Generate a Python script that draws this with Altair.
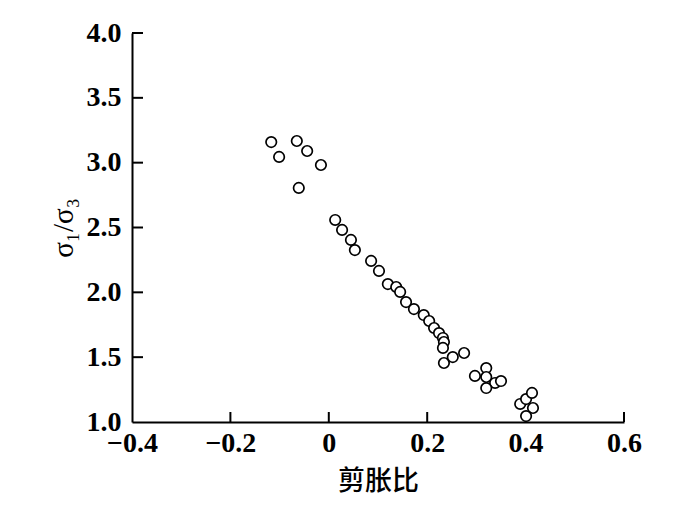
import altair as alt
import pandas as pd

# 剪胀比 (dilatancy ratio) and principal stress ratio σ1/σ3
dilatancy = [-0.117, -0.101, -0.065, -0.044, -0.016, -0.061,
             0.013, 0.027, 0.045, 0.053, 0.086, 0.102, 0.120, 0.137, 0.145,
             0.157, 0.173, 0.193, 0.204, 0.214, 0.224, 0.232, 0.234, 0.232,
             0.234, 0.252, 0.275, 0.297, 0.320, 0.320, 0.338, 0.350, 0.320,
             0.389, 0.401, 0.413, 0.415, 0.401]
stress_ratio = [3.159, 3.044, 3.167, 3.090, 2.982, 2.805,
                2.558, 2.481, 2.404, 2.326, 2.242, 2.165, 2.064, 2.041, 2.003,
                1.925, 1.871, 1.825, 1.779, 1.725, 1.686, 1.648, 1.617, 1.571,
                1.455, 1.501, 1.532, 1.355, 1.416, 1.347, 1.301, 1.316, 1.262,
                1.139, 1.177, 1.224, 1.108, 1.046]

x_label_values = [-0.4, -0.2, 0.0, 0.2, 0.4, 0.6]
y_label_values = [1.0, 1.5, 2.0, 2.5, 3.0, 3.5, 4.0]
x_tick_marks = [-0.2, 0.0, 0.2, 0.4, 0.6]
y_tick_marks = [1.5, 2.0, 2.5, 3.0, 3.5, 4.0]

df = pd.DataFrame({"x": dilatancy, "y": stress_ratio})
xt = pd.DataFrame({"x": x_tick_marks})
yt = pd.DataFrame({"y": y_tick_marks})

W, H = 492, 389
xscale = alt.Scale(domain=[-0.4, 0.6], nice=False, zero=False)
yscale = alt.Scale(domain=[1.0, 4.0], nice=False, zero=False)

xaxis = alt.Axis(
    values=x_label_values,
    labelExpr="datum.value == 0 ? '0' : format(datum.value, '.1f')",
    title="剪胀比", ticks=False, grid=False, labelFlush=False,
    labelOverlap=False, labelPadding=7, labelBaseline="top",
    titleFont="Noto Sans CJK SC", titleFontSize=27, titleFontWeight=500,
    titlePadding=11)
yaxis = alt.Axis(
    values=y_label_values, format=".1f",
    title="σ₁/σ₃", ticks=False, grid=False, labelFlush=False,
    labelOverlap=False, labelPadding=11,
    titleFont="Liberation Serif", titleFontSize=29, titleFontWeight="normal",
    titlePadding=8)

xticks = alt.Chart(xt).mark_rule(color="black", strokeWidth=2).encode(
    x=alt.X("x:Q", scale=xscale, axis=xaxis),
    y=alt.value(H), y2=alt.value(H - 10),
)
yticks = alt.Chart(yt).mark_rule(color="black", strokeWidth=2).encode(
    y=alt.Y("y:Q", scale=yscale, axis=yaxis),
    x=alt.value(0), x2=alt.value(11),
)
points = alt.Chart(df).mark_circle(
    fill="white", stroke="black", strokeWidth=1.7, size=110, opacity=1
).encode(
    x=alt.X("x:Q", scale=xscale, axis=xaxis),
    y=alt.Y("y:Q", scale=yscale, axis=yaxis),
)

chart = alt.layer(xticks, yticks, points).properties(
    width=W, height=H,
    autosize=alt.AutoSizeParams(type="none"),
    padding={"left": 124, "top": 25, "right": 56, "bottom": 82},
).configure_view(strokeWidth=0).configure_axis(
    domainColor="black", domainWidth=2,
    labelFont="Liberation Serif", labelFontSize=28, labelFontWeight="bold",
    labelColor="black", titleColor="black",
)

chart.save("out.html", embed_options={"renderer": "svg", "actions": False})
